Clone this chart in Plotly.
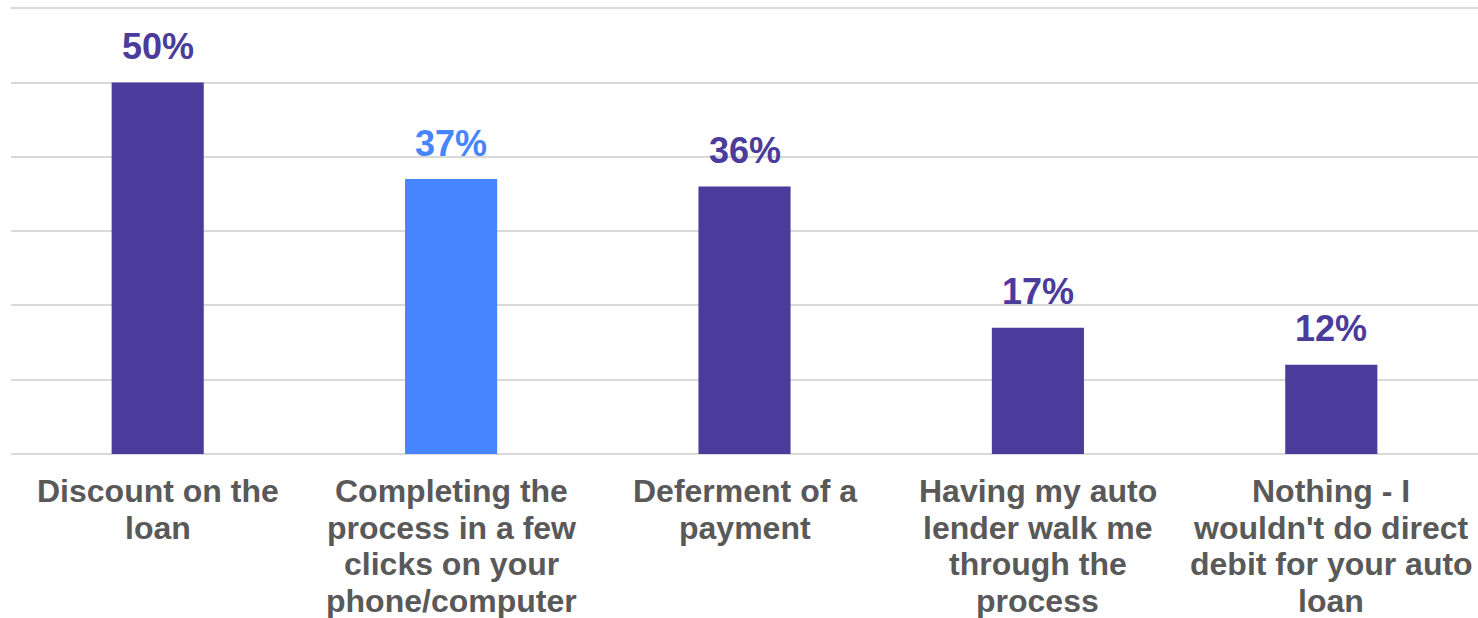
import plotly.graph_objects as go

# Survey results: what would make respondents set up direct debit for an auto loan
categories = [
    "Discount on the loan",
    "Completing the process in a few clicks on your phone/computer",
    "Deferment of a payment",
    "Having my auto lender walk me through the process",
    "Nothing - I wouldn't do direct debit for your auto loan",
]
label_lines = [
    ["Discount on the", "loan"],
    ["Completing the", "process in a few", "clicks on your", "phone/computer"],
    ["Deferment of a", "payment"],
    ["Having my auto", "lender walk me", "through the", "process"],
    ["Nothing - I", "wouldn't do direct", "debit for your auto", "loan"],
]
values = [50, 37, 36, 17, 12]

PURPLE = "#4b3b9b"
BLUE = "#4785ff"
bar_colors = [PURPLE, BLUE, PURPLE, PURPLE, PURPLE]
FONT = "Liberation Sans, Arial, sans-serif"

fig = go.Figure(
    go.Bar(
        x=categories,
        y=values,
        marker=dict(color=bar_colors, line=dict(width=0)),
        width=0.314,
        hoverinfo="skip",
    )
)

annotations = []
# value labels above each bar
for cat, v, c in zip(categories, values, bar_colors):
    annotations.append(
        dict(
            x=cat, y=v, xref="x", yref="y",
            text=f"{v}%", showarrow=False,
            yanchor="middle", yshift=36,
            font=dict(family=FONT, size=36, color=c, weight="bold"),
        )
    )
# multi-line category labels under the axis
for cat, lines in zip(categories, label_lines):
    for i, line in enumerate(lines):
        annotations.append(
            dict(
                x=cat, y=0, xref="x", yref="paper",
                text=line, showarrow=False,
                yanchor="middle", yshift=-37 - 36.5 * i,
                font=dict(family=FONT, size=32, color="#595959", weight="bold"),
            )
        )

fig.update_layout(
    width=1478, height=618,
    margin=dict(l=11, r=0, t=6, b=164),
    paper_bgcolor="white", plot_bgcolor="white",
    showlegend=False,
    annotations=annotations,
    xaxis=dict(showticklabels=False, showgrid=False, showline=False, ticks=""),
    yaxis=dict(
        range=[0, 60.3], tickvals=[10, 20, 30, 40, 50, 60], showticklabels=False,
        showgrid=True, gridcolor="#d9d9d9", gridwidth=2,
        zeroline=True, zerolinecolor="#d9d9d9", zerolinewidth=2,
        showline=False, ticks="",
    ),
)

fig.write_html("out.html")
